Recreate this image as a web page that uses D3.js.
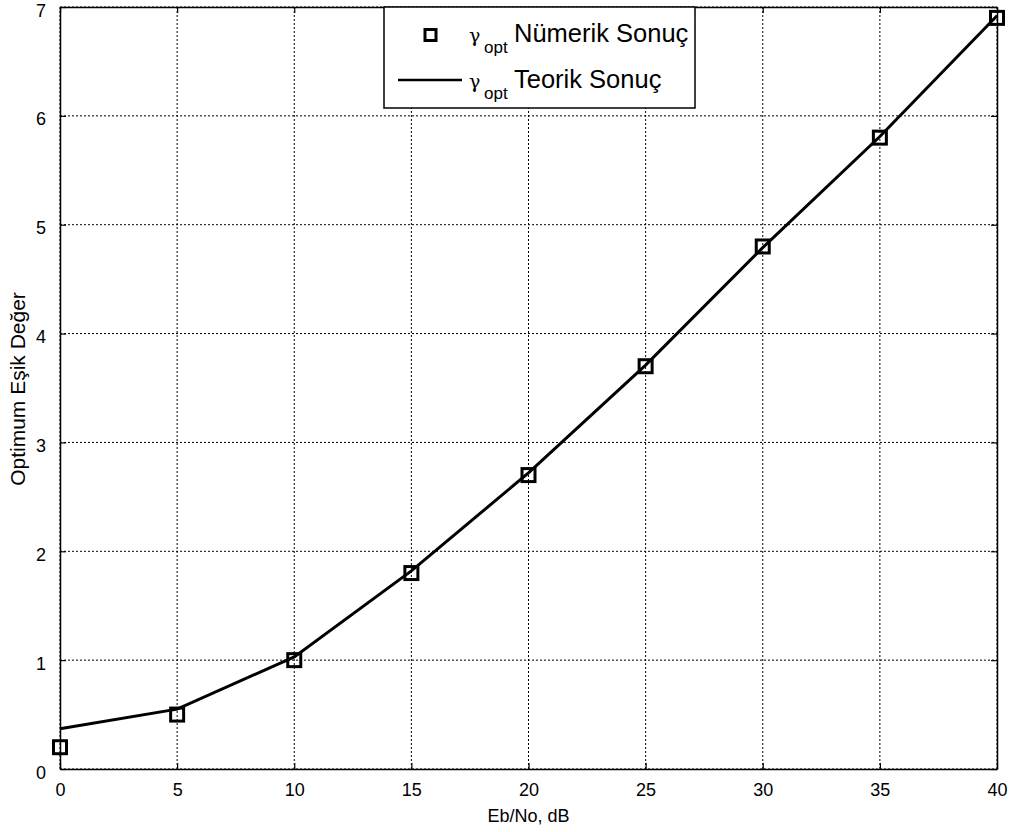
<!DOCTYPE html>
<html><head><meta charset="utf-8">
<script src="https://cdn.jsdelivr.net/npm/d3@7"></script>
<style>body{margin:0;background:#fff}</style>
</head><body>
<svg id="c" width="1012" height="832"></svg>
<script>
const ebno = [0, 5, 10, 15, 20, 25, 30, 35, 40];
const numerik = [0.2, 0.5, 1.0, 1.8, 2.7, 3.7, 4.8, 5.8, 6.9];
const teorik = [0.37, 0.55, 1.03, 1.82, 2.72, 3.71, 4.79, 5.81, 6.92];
const xTicks = [0, 5, 10, 15, 20, 25, 30, 35, 40];
const yTicks = [0, 1, 2, 3, 4, 5, 6, 7];

const svg = d3.select("#c");
const L = 60, R = 997, T = 7, B = 769;
const x = d3.scaleLinear().domain([0, 40]).range([L, R]);
const y = d3.scaleLinear().domain([0, 7]).range([B, T]);
const font = "Liberation Sans, Arial, sans-serif";

// grid
const g = svg.append("g");
g.selectAll(".gx").data(xTicks).enter().append("line")
  .attr("x1", d => x(d)).attr("x2", d => x(d)).attr("y1", T).attr("y2", B)
  .attr("stroke", "#000").attr("stroke-width", 1).attr("stroke-dasharray", "2,2");
g.selectAll(".gy").data(yTicks).enter().append("line")
  .attr("y1", d => y(d)).attr("y2", d => y(d)).attr("x1", L).attr("x2", R)
  .attr("stroke", "#000").attr("stroke-width", 1).attr("stroke-dasharray", "2,2");

// axes (inward ticks)
const fmt = d3.format("d");
const ax = svg.append("g").attr("transform", `translate(0,${B})`)
  .call(d3.axisBottom(x).tickValues(xTicks).tickFormat(fmt).tickSizeInner(-6).tickSizeOuter(0).tickPadding(14));
const axT = svg.append("g").attr("transform", `translate(0,${T})`)
  .call(d3.axisTop(x).tickValues(xTicks).tickSizeInner(-6).tickSizeOuter(0).tickFormat(""));
const ay = svg.append("g").attr("transform", `translate(${L},0)`)
  .call(d3.axisLeft(y).tickValues(yTicks).tickFormat(fmt).tickSizeInner(-6).tickSizeOuter(0).tickPadding(14));
const ayR = svg.append("g").attr("transform", `translate(${R},0)`)
  .call(d3.axisRight(y).tickValues(yTicks).tickSizeInner(-6).tickSizeOuter(0).tickFormat(""));
[ax, axT, ay, ayR].forEach(a => {
  a.select(".domain").attr("stroke", "#000").attr("stroke-width", 1.5);
  a.selectAll(".tick line").attr("stroke", "#000").attr("stroke-width", 1.2);
  a.selectAll("text").attr("font-family", font).attr("font-size", 18).attr("fill", "#000");
});
ay.selectAll("text").attr("dy", "0.5em");

// line
const line = d3.line().x((d, i) => x(ebno[i])).y(d => y(d));
svg.append("path").datum(teorik).attr("d", line)
  .attr("fill", "none").attr("stroke", "#000").attr("stroke-width", 3);

// markers
const ms = 13;
svg.selectAll(".m").data(numerik).enter().append("rect")
  .attr("x", (d, i) => x(ebno[i]) - ms / 2).attr("y", d => y(d) - ms / 2)
  .attr("width", ms).attr("height", ms)
  .attr("fill", "none").attr("stroke", "#000").attr("stroke-width", 3);

// legend
const lg = svg.append("g");
lg.append("rect").attr("x", 384).attr("y", 7).attr("width", 311).attr("height", 101)
  .attr("fill", "#fff").attr("stroke", "#000").attr("stroke-width", 1.5);
lg.append("rect").attr("x", 425).attr("y", 29.5).attr("width", 11).attr("height", 11)
  .attr("fill", "none").attr("stroke", "#000").attr("stroke-width", 3);
lg.append("line").attr("x1", 398).attr("x2", 462).attr("y1", 80).attr("y2", 80)
  .attr("stroke", "#000").attr("stroke-width", 2.5);
const labs = [["Nümerik Sonuç", 42], ["Teorik Sonuç", 88]];
labs.forEach(([t, yy]) => {
  lg.append("text").attr("x", 469).attr("y", yy).attr("font-family", "DejaVu Serif, serif")
    .attr("font-size", 19).text("γ");
  lg.append("text").attr("x", 484).attr("y", yy + 11).attr("font-family", font)
    .attr("font-size", 17).text("opt");
  lg.append("text").attr("x", 514).attr("y", yy).attr("font-family", font)
    .attr("font-size", 25.5).text(t);
});

// axis labels
svg.append("text").attr("x", (L + R) / 2).attr("y", 822).attr("text-anchor", "middle")
  .attr("font-family", font).attr("font-size", 18).text("Eb/No, dB");
svg.append("text").attr("transform", `translate(25,389) rotate(-90)`)
  .attr("text-anchor", "middle").attr("font-family", font).attr("font-size", 21)
  .text("Optimum Eşik Değer");
</script>
</body></html>
